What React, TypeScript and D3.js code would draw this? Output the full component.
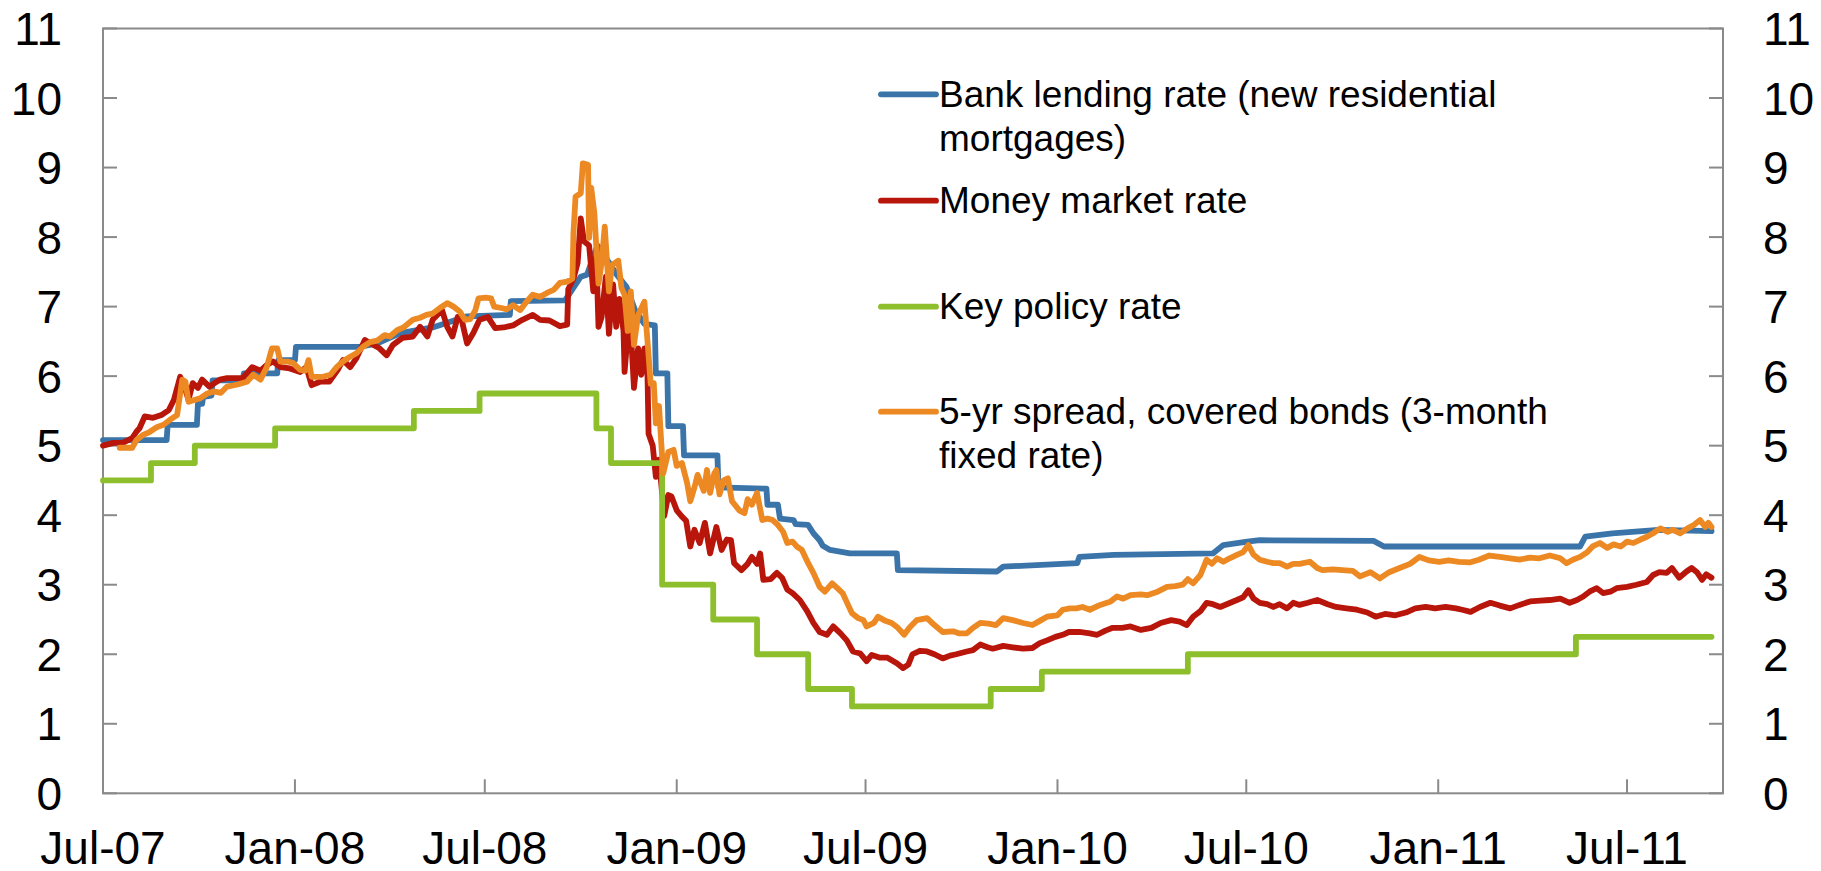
import React from "react";
import * as d3 from "d3";

type Pt = [string, number];

const xTickLabelsFormat = "%b-%y";
const yTickValues = [0, 1, 2, 3, 4, 5, 6, 7, 8, 9, 10, 11];

const legendLabels: string[][] = [
  ["Bank lending rate (new residential", "mortgages)"],
  ["Money market rate"],
  ["Key policy rate"],
  ["5-yr spread, covered bonds (3-month", "fixed rate)"],
];
const seriesColors = ["#3A74A9", "#B8150B", "#8DBF2C", "#EC8923"];

const keyPolicyRate: Pt[] = [
  ["2007-07-01", 4.5], ["2007-08-16", 4.75], ["2007-09-27", 5.0], ["2007-12-13", 5.25],
  ["2008-04-24", 5.5], ["2008-06-26", 5.75], ["2008-10-16", 5.25], ["2008-10-30", 4.75],
  ["2008-12-18", 3.0], ["2009-02-05", 2.5], ["2009-03-19", 2.0], ["2009-05-07", 1.5],
  ["2009-06-18", 1.25], ["2009-10-29", 1.5], ["2009-12-17", 1.75], ["2010-05-06", 2.0],
  ["2011-05-13", 2.25], ["2011-09-20", 2.25],
];

const bankLendingRate: Pt[] = [
  ["2007-07-01", 5.08], ["2007-08-31", 5.08], ["2007-09-01", 5.3], ["2007-09-29", 5.3],
  ["2007-09-30", 5.6], ["2007-10-04", 5.6], ["2007-10-05", 5.7], ["2007-10-13", 5.72],
  ["2007-10-14", 5.94], ["2007-11-12", 5.94], ["2007-11-13", 6.04], ["2007-12-15", 6.04],
  ["2007-12-16", 6.23], ["2008-01-01", 6.23], ["2008-01-02", 6.42], ["2008-03-03", 6.42],
  ["2008-03-20", 6.47], ["2008-04-11", 6.62], ["2008-05-12", 6.7], ["2008-06-14", 6.86],
  ["2008-07-25", 6.88], ["2008-07-26", 7.08], ["2008-09-16", 7.09], ["2008-10-01", 7.43],
  ["2008-10-07", 7.46], ["2008-10-17", 7.88], ["2008-10-23", 7.75], ["2008-11-05", 7.45],
  ["2008-11-14", 7.28], ["2008-11-22", 6.95], ["2008-12-01", 6.75], ["2008-12-11", 6.73],
  ["2008-12-12", 6.04], ["2008-12-23", 6.04], ["2008-12-24", 5.28], ["2009-01-07", 5.28],
  ["2009-01-08", 4.86], ["2009-02-09", 4.86], ["2009-02-10", 4.4], ["2009-03-28", 4.38],
  ["2009-03-29", 4.15], ["2009-04-08", 4.15], ["2009-04-10", 3.95], ["2009-04-23", 3.93],
  ["2009-04-25", 3.87], ["2009-05-07", 3.86], ["2009-05-12", 3.74], ["2009-05-18", 3.64],
  ["2009-05-21", 3.56], ["2009-05-28", 3.5], ["2009-06-16", 3.45], ["2009-07-31", 3.45],
  ["2009-08-01", 3.21], ["2009-11-04", 3.19], ["2009-11-10", 3.26], ["2010-01-20", 3.31],
  ["2010-01-22", 3.4], ["2010-02-24", 3.43], ["2010-05-30", 3.45], ["2010-06-09", 3.57],
  ["2010-07-02", 3.62], ["2010-07-14", 3.64], ["2010-10-31", 3.63], ["2010-11-10", 3.55],
  ["2011-05-17", 3.55], ["2011-05-22", 3.69], ["2011-06-17", 3.74], ["2011-07-31", 3.79],
  ["2011-09-20", 3.77],
];

const moneyMarketRate: Pt[] = [
  ["2007-07-01", 5.0], ["2007-07-11", 5.04], ["2007-07-20", 5.04], ["2007-07-29", 5.11],
  ["2007-08-02", 5.2], ["2007-08-05", 5.25], ["2007-08-10", 5.42], ["2007-08-18", 5.4],
  ["2007-08-26", 5.44], ["2007-09-02", 5.51], ["2007-09-07", 5.66], ["2007-09-13", 5.99],
  ["2007-09-16", 5.9], ["2007-09-21", 5.66], ["2007-09-25", 5.9], ["2007-09-30", 5.83],
  ["2007-10-04", 5.95], ["2007-10-11", 5.85], ["2007-10-21", 5.95], ["2007-10-28", 5.97],
  ["2007-11-12", 5.97], ["2007-11-21", 6.13], ["2007-11-29", 6.08], ["2007-12-05", 6.16],
  ["2007-12-11", 6.21], ["2007-12-18", 6.13], ["2007-12-27", 6.11], ["2008-01-06", 6.06],
  ["2008-01-12", 6.13], ["2008-01-17", 5.87], ["2008-01-25", 5.92], ["2008-02-03", 5.92],
  ["2008-02-11", 6.09], ["2008-02-16", 6.23], ["2008-02-23", 6.13], ["2008-02-29", 6.26],
  ["2008-03-08", 6.52], ["2008-03-16", 6.45], ["2008-03-22", 6.4], ["2008-03-29", 6.3],
  ["2008-04-04", 6.45], ["2008-04-13", 6.55], ["2008-04-23", 6.57], ["2008-04-30", 6.71],
  ["2008-05-07", 6.57], ["2008-05-12", 6.81], ["2008-05-21", 6.95], ["2008-05-26", 6.71],
  ["2008-05-31", 6.57], ["2008-06-05", 6.85], ["2008-06-09", 6.8], ["2008-06-14", 6.47],
  ["2008-06-20", 6.62], ["2008-06-26", 6.81], ["2008-07-04", 6.85], ["2008-07-11", 6.69],
  ["2008-07-19", 6.7], ["2008-07-28", 6.73], ["2008-08-06", 6.81], ["2008-08-16", 6.88],
  ["2008-08-23", 6.81], ["2008-09-01", 6.8], ["2008-09-11", 6.72], ["2008-09-18", 6.74],
  ["2008-09-19", 7.25], ["2008-09-24", 7.4], ["2008-09-28", 7.63], ["2008-10-01", 8.27],
  ["2008-10-04", 7.94], ["2008-10-09", 7.88], ["2008-10-13", 7.22], ["2008-10-16", 7.71],
  ["2008-10-18", 6.71], ["2008-10-21", 6.85], ["2008-10-25", 7.43], ["2008-10-28", 6.61],
  ["2008-11-01", 7.32], ["2008-11-04", 6.71], ["2008-11-07", 7.11], ["2008-11-11", 6.65],
  ["2008-11-12", 6.06], ["2008-11-15", 6.6], ["2008-11-18", 6.65], ["2008-11-21", 5.83],
  ["2008-11-25", 6.4], ["2008-11-28", 6.02], ["2008-12-01", 6.4], ["2008-12-04", 6.0],
  ["2008-12-05", 5.17], ["2008-12-09", 5.0], ["2008-12-12", 4.55], ["2008-12-15", 4.8],
  ["2008-12-20", 3.99], ["2008-12-24", 4.29], ["2008-12-27", 4.27], ["2009-01-01", 4.07],
  ["2009-01-06", 3.98], ["2009-01-10", 3.92], ["2009-01-14", 3.55], ["2009-01-18", 3.79],
  ["2009-01-23", 3.6], ["2009-01-28", 3.89], ["2009-02-02", 3.45], ["2009-02-08", 3.83],
  ["2009-02-13", 3.5], ["2009-02-18", 3.65], ["2009-02-22", 3.64], ["2009-02-25", 3.31],
  ["2009-03-04", 3.21], ["2009-03-10", 3.3], ["2009-03-14", 3.4], ["2009-03-19", 3.3],
  ["2009-03-22", 3.45], ["2009-03-25", 3.07], ["2009-04-01", 3.08], ["2009-04-07", 3.17],
  ["2009-04-12", 3.1], ["2009-04-17", 2.93], ["2009-04-22", 2.88], ["2009-04-29", 2.78],
  ["2009-05-06", 2.62], ["2009-05-12", 2.45], ["2009-05-18", 2.32], ["2009-05-25", 2.28],
  ["2009-05-31", 2.4], ["2009-06-07", 2.3], ["2009-06-13", 2.2], ["2009-06-19", 2.04],
  ["2009-06-26", 2.01], ["2009-07-02", 1.9], ["2009-07-07", 1.99], ["2009-07-15", 1.95],
  ["2009-07-22", 1.95], ["2009-07-31", 1.87], ["2009-08-06", 1.8], ["2009-08-11", 1.85],
  ["2009-08-15", 2.0], ["2009-08-22", 2.05], ["2009-08-29", 2.04], ["2009-09-05", 2.0],
  ["2009-09-13", 1.94], ["2009-09-20", 1.98], ["2009-09-26", 2.0], ["2009-10-06", 2.04],
  ["2009-10-12", 2.06], ["2009-10-19", 2.14], ["2009-10-26", 2.1], ["2009-10-31", 2.08],
  ["2009-11-10", 2.12], ["2009-11-19", 2.1], ["2009-11-29", 2.08], ["2009-12-08", 2.09],
  ["2009-12-15", 2.16], ["2009-12-22", 2.2], ["2009-12-30", 2.25], ["2010-01-06", 2.28],
  ["2010-01-12", 2.32], ["2010-01-22", 2.32], ["2010-02-01", 2.3], ["2010-02-08", 2.28],
  ["2010-02-16", 2.34], ["2010-02-23", 2.38], ["2010-03-04", 2.38], ["2010-03-12", 2.4],
  ["2010-03-22", 2.35], ["2010-04-01", 2.38], ["2010-04-10", 2.45], ["2010-04-20", 2.49],
  ["2010-04-28", 2.47], ["2010-05-05", 2.42], ["2010-05-11", 2.54], ["2010-05-18", 2.62],
  ["2010-05-24", 2.74], ["2010-05-30", 2.72], ["2010-06-06", 2.68], ["2010-06-14", 2.73],
  ["2010-06-22", 2.78], ["2010-06-28", 2.82], ["2010-07-03", 2.92], ["2010-07-08", 2.8],
  ["2010-07-14", 2.74], ["2010-07-21", 2.72], ["2010-07-27", 2.68], ["2010-08-02", 2.72],
  ["2010-08-09", 2.66], ["2010-08-15", 2.74], ["2010-08-21", 2.71], ["2010-08-29", 2.74],
  ["2010-09-07", 2.78], ["2010-09-17", 2.72], ["2010-09-25", 2.68], ["2010-10-05", 2.66],
  ["2010-10-15", 2.64], ["2010-10-25", 2.6], ["2010-11-02", 2.54], ["2010-11-11", 2.58],
  ["2010-11-21", 2.56], ["2010-12-01", 2.6], ["2010-12-10", 2.66], ["2010-12-20", 2.68],
  ["2010-12-29", 2.66], ["2011-01-08", 2.68], ["2011-01-18", 2.66], ["2011-01-24", 2.64],
  ["2011-02-01", 2.61], ["2011-02-10", 2.68], ["2011-02-20", 2.74], ["2011-03-01", 2.7],
  ["2011-03-11", 2.66], ["2011-03-20", 2.71], ["2011-03-30", 2.76], ["2011-04-09", 2.77],
  ["2011-04-18", 2.78], ["2011-04-28", 2.8], ["2011-05-07", 2.74], ["2011-05-14", 2.78],
  ["2011-05-20", 2.83], ["2011-05-26", 2.9], ["2011-06-02", 2.95], ["2011-06-08", 2.88],
  ["2011-06-15", 2.9], ["2011-06-21", 2.95], ["2011-07-01", 2.97], ["2011-07-10", 3.0],
  ["2011-07-20", 3.04], ["2011-07-26", 3.14], ["2011-08-01", 3.18], ["2011-08-08", 3.17],
  ["2011-08-13", 3.24], ["2011-08-20", 3.1], ["2011-08-27", 3.19], ["2011-09-01", 3.24],
  ["2011-09-06", 3.18], ["2011-09-11", 3.07], ["2011-09-15", 3.15], ["2011-09-20", 3.1],
];

const coveredBondRate: Pt[] = [
  ["2007-07-17", 4.97], ["2007-07-29", 4.97], ["2007-08-02", 5.08], ["2007-08-08", 5.15],
  ["2007-08-15", 5.2], ["2007-08-22", 5.27], ["2007-08-28", 5.3], ["2007-09-03", 5.37],
  ["2007-09-10", 5.44], ["2007-09-15", 5.95], ["2007-09-18", 5.92], ["2007-09-21", 5.63],
  ["2007-09-25", 5.65], ["2007-10-02", 5.68], ["2007-10-09", 5.75], ["2007-10-15", 5.78],
  ["2007-10-22", 5.76], ["2007-10-28", 5.85], ["2007-11-07", 5.88], ["2007-11-16", 5.92],
  ["2007-11-22", 6.02], ["2007-11-29", 5.95], ["2007-12-05", 6.13], ["2007-12-10", 6.4],
  ["2007-12-15", 6.4], ["2007-12-18", 6.21], ["2007-12-25", 6.21], ["2007-12-30", 6.19],
  ["2008-01-06", 6.09], ["2008-01-11", 6.08], ["2008-01-14", 6.23], ["2008-01-17", 5.99],
  ["2008-01-28", 5.99], ["2008-02-04", 6.02], ["2008-02-10", 6.13], ["2008-02-16", 6.21],
  ["2008-02-23", 6.28], ["2008-02-29", 6.33], ["2008-03-06", 6.42], ["2008-03-13", 6.49],
  ["2008-03-20", 6.51], ["2008-03-27", 6.59], ["2008-04-01", 6.57], ["2008-04-08", 6.66],
  ["2008-04-14", 6.7], ["2008-04-23", 6.81], ["2008-04-30", 6.84], ["2008-05-06", 6.88],
  ["2008-05-12", 6.9], ["2008-05-19", 6.98], ["2008-05-26", 7.05], ["2008-06-01", 7.0],
  ["2008-06-07", 6.93], ["2008-06-12", 6.81], ["2008-06-17", 6.82], ["2008-06-22", 6.95],
  ["2008-06-25", 7.12], ["2008-07-02", 7.13], ["2008-07-07", 7.12], ["2008-07-10", 7.0],
  ["2008-07-17", 6.98], ["2008-07-22", 6.96], ["2008-07-28", 7.02], ["2008-08-04", 6.95],
  ["2008-08-10", 7.07], ["2008-08-16", 7.17], ["2008-08-23", 7.14], ["2008-08-30", 7.2],
  ["2008-09-05", 7.24], ["2008-09-11", 7.34], ["2008-09-18", 7.36], ["2008-09-23", 7.4],
  ["2008-09-24", 8.05], ["2008-09-26", 8.58], ["2008-10-01", 8.63], ["2008-10-03", 9.06],
  ["2008-10-08", 9.04], ["2008-10-09", 7.99], ["2008-10-11", 8.71], ["2008-10-14", 8.35],
  ["2008-10-18", 7.33], ["2008-10-21", 7.63], ["2008-10-24", 8.15], ["2008-10-28", 7.22],
  ["2008-10-31", 7.6], ["2008-11-06", 7.66], ["2008-11-09", 7.27], ["2008-11-12", 7.17],
  ["2008-11-15", 6.65], ["2008-11-18", 7.22], ["2008-11-21", 6.45], ["2008-11-25", 6.88],
  ["2008-12-01", 7.07], ["2008-12-04", 6.5], ["2008-12-07", 5.89], ["2008-12-10", 5.9],
  ["2008-12-12", 5.32], ["2008-12-15", 5.57], ["2008-12-19", 4.6], ["2008-12-24", 4.91],
  ["2008-12-29", 4.94], ["2009-01-01", 4.71], ["2009-01-06", 4.75], ["2009-01-11", 4.46],
  ["2009-01-14", 4.2], ["2009-01-18", 4.4], ["2009-01-21", 4.58], ["2009-01-27", 4.35],
  ["2009-01-30", 4.65], ["2009-02-02", 4.32], ["2009-02-06", 4.6], ["2009-02-08", 4.65],
  ["2009-02-11", 4.3], ["2009-02-15", 4.5], ["2009-02-19", 4.53], ["2009-02-23", 4.2],
  ["2009-03-02", 4.07], ["2009-03-07", 4.03], ["2009-03-10", 4.23], ["2009-03-14", 4.15],
  ["2009-03-19", 4.32], ["2009-03-24", 3.93], ["2009-03-29", 3.95], ["2009-04-03", 3.93],
  ["2009-04-08", 3.86], ["2009-04-13", 3.76], ["2009-04-17", 3.6], ["2009-04-22", 3.62],
  ["2009-04-26", 3.55], ["2009-05-01", 3.5], ["2009-05-07", 3.31], ["2009-05-12", 3.17],
  ["2009-05-18", 2.97], ["2009-05-23", 2.9], ["2009-05-30", 3.02], ["2009-06-04", 2.95],
  ["2009-06-09", 2.88], ["2009-06-13", 2.75], ["2009-06-18", 2.59], ["2009-06-24", 2.52],
  ["2009-06-29", 2.49], ["2009-07-02", 2.4], ["2009-07-09", 2.45], ["2009-07-13", 2.54],
  ["2009-07-20", 2.48], ["2009-07-26", 2.45], ["2009-08-01", 2.38], ["2009-08-07", 2.28],
  ["2009-08-12", 2.38], ["2009-08-19", 2.49], ["2009-08-29", 2.52], ["2009-09-05", 2.42],
  ["2009-09-13", 2.32], ["2009-09-23", 2.33], ["2009-09-29", 2.3], ["2009-10-06", 2.3],
  ["2009-10-12", 2.38], ["2009-10-19", 2.45], ["2009-10-27", 2.44], ["2009-11-03", 2.42],
  ["2009-11-10", 2.52], ["2009-11-19", 2.49], ["2009-11-29", 2.45], ["2009-12-08", 2.42],
  ["2009-12-15", 2.48], ["2009-12-22", 2.54], ["2010-01-01", 2.56], ["2010-01-06", 2.64],
  ["2010-01-13", 2.66], ["2010-01-19", 2.66], ["2010-01-25", 2.68], ["2010-02-01", 2.64],
  ["2010-02-11", 2.71], ["2010-02-21", 2.76], ["2010-02-27", 2.83], ["2010-03-05", 2.8],
  ["2010-03-12", 2.85], ["2010-03-22", 2.86], ["2010-03-28", 2.85], ["2010-04-07", 2.9],
  ["2010-04-16", 2.97], ["2010-04-24", 2.98], ["2010-05-01", 3.0], ["2010-05-06", 3.08],
  ["2010-05-11", 3.02], ["2010-05-18", 3.14], ["2010-05-24", 3.36], ["2010-05-29", 3.3],
  ["2010-06-03", 3.38], ["2010-06-09", 3.33], ["2010-06-15", 3.38], ["2010-06-22", 3.43],
  ["2010-06-28", 3.47], ["2010-07-03", 3.57], ["2010-07-08", 3.43], ["2010-07-14", 3.36],
  ["2010-07-21", 3.33], ["2010-07-27", 3.31], ["2010-08-02", 3.31], ["2010-08-09", 3.26],
  ["2010-08-15", 3.3], ["2010-08-21", 3.3], ["2010-08-31", 3.33], ["2010-09-07", 3.24],
  ["2010-09-12", 3.21], ["2010-09-22", 3.22], ["2010-10-01", 3.21], ["2010-10-11", 3.2],
  ["2010-10-18", 3.12], ["2010-10-28", 3.18], ["2010-11-06", 3.09], ["2010-11-15", 3.18],
  ["2010-11-25", 3.24], ["2010-12-05", 3.3], ["2010-12-14", 3.4], ["2010-12-23", 3.35],
  ["2011-01-02", 3.33], ["2011-01-11", 3.35], ["2011-01-21", 3.33], ["2011-01-31", 3.32],
  ["2011-02-09", 3.36], ["2011-02-19", 3.42], ["2011-03-01", 3.4], ["2011-03-11", 3.38],
  ["2011-03-20", 3.36], ["2011-03-30", 3.39], ["2011-04-08", 3.38], ["2011-04-18", 3.42],
  ["2011-04-28", 3.38], ["2011-05-04", 3.31], ["2011-05-10", 3.36], ["2011-05-17", 3.4],
  ["2011-05-24", 3.47], ["2011-05-29", 3.55], ["2011-06-05", 3.6], ["2011-06-12", 3.53],
  ["2011-06-18", 3.58], ["2011-06-25", 3.55], ["2011-07-01", 3.62], ["2011-07-07", 3.6],
  ["2011-07-14", 3.65], ["2011-07-20", 3.69], ["2011-07-26", 3.74], ["2011-08-02", 3.81],
  ["2011-08-09", 3.76], ["2011-08-14", 3.79], ["2011-08-21", 3.74], ["2011-08-28", 3.81],
  ["2011-09-03", 3.86], ["2011-09-09", 3.93], ["2011-09-14", 3.83], ["2011-09-17", 3.89],
  ["2011-09-20", 3.83],
];

const FONT = "'Liberation Sans', Arial, Helvetica, sans-serif";
const AXIS = "#8A8A8A";

export default function App() {
  const parse = d3.timeParse("%Y-%m-%d");
  const left = 103, right = 1723, top = 28.5, bottom = 793.3;
  const x = d3.scaleTime().domain([new Date(2007, 6, 1), new Date(2011, 9, 1)]).range([left, right]);
  const y = d3.scaleLinear().domain([0, 11]).range([bottom, top]);

  const lineLinear = d3.line<Pt>().x((d) => x(parse(d[0]) as Date)).y((d) => y(d[1])).curve(d3.curveLinear);
  const lineStep = d3.line<Pt>().x((d) => x(parse(d[0]) as Date)).y((d) => y(d[1])).curve(d3.curveStepAfter);

  const xTicks = x.ticks(d3.timeMonth.every(6) as any).filter((d) => d <= new Date(2011, 8, 30));
  const fmt = d3.timeFormat(xTickLabelsFormat);

  const series = [
    { d: lineLinear(bankLendingRate), c: seriesColors[0] },
    { d: lineLinear(moneyMarketRate), c: seriesColors[1] },
    { d: lineStep(keyPolicyRate), c: seriesColors[2] },
    { d: lineLinear(coveredBondRate), c: seriesColors[3] },
  ];

  const legendY = [94.3, 200.7, 306.7, 411.7];
  const tickLen = 14;
  const SW = 5.8;

  return (
    <svg width={1821} height={871} style={{ position: "absolute", left: 0, top: 0, background: "#fff" }} fontFamily={FONT}>
      <rect x={0} y={0} width={1821} height={871} fill="#fff" />
      <rect x={left} y={top} width={right - left} height={bottom - top} fill="none" stroke={AXIS} strokeWidth={2} />
      {yTickValues.map((v) => (
        <g key={"y" + v}>
          <line x1={left} x2={left + tickLen} y1={y(v)} y2={y(v)} stroke={AXIS} strokeWidth={2} />
          <line x1={right} x2={right - tickLen} y1={y(v)} y2={y(v)} stroke={AXIS} strokeWidth={2} />
          <text x={62} y={y(v) + 16.5} fontSize={46} textAnchor="end" fill="#000">{v}</text>
          <text x={1763} y={y(v) + 16.5} fontSize={46} textAnchor="start" fill="#000">{v}</text>
        </g>
      ))}
      {xTicks.map((t, i) => (
        <g key={"x" + i}>
          <line x1={x(t)} x2={x(t)} y1={bottom} y2={bottom - tickLen} stroke={AXIS} strokeWidth={2} />
          <text x={x(t)} y={864} fontSize={46} textAnchor="middle" fill="#000">{fmt(t)}</text>
        </g>
      ))}
      {series.map((s, i) => (
        <path key={"s" + i} d={s.d || ""} fill="none" stroke={s.c} strokeWidth={SW} strokeLinejoin="round" strokeLinecap="round" />
      ))}
      {legendLabels.map((lines, i) => (
        <g key={"l" + i}>
          <line x1={881} x2={936} y1={legendY[i]} y2={legendY[i]} stroke={seriesColors[i]} strokeWidth={SW} strokeLinecap="round" />
          {lines.map((t, j) => (
            <text key={j} x={939} y={legendY[i] + 12.4 + j * 44} fontSize={37} fill="#000">{t}</text>
          ))}
        </g>
      ))}
    </svg>
  );
}
